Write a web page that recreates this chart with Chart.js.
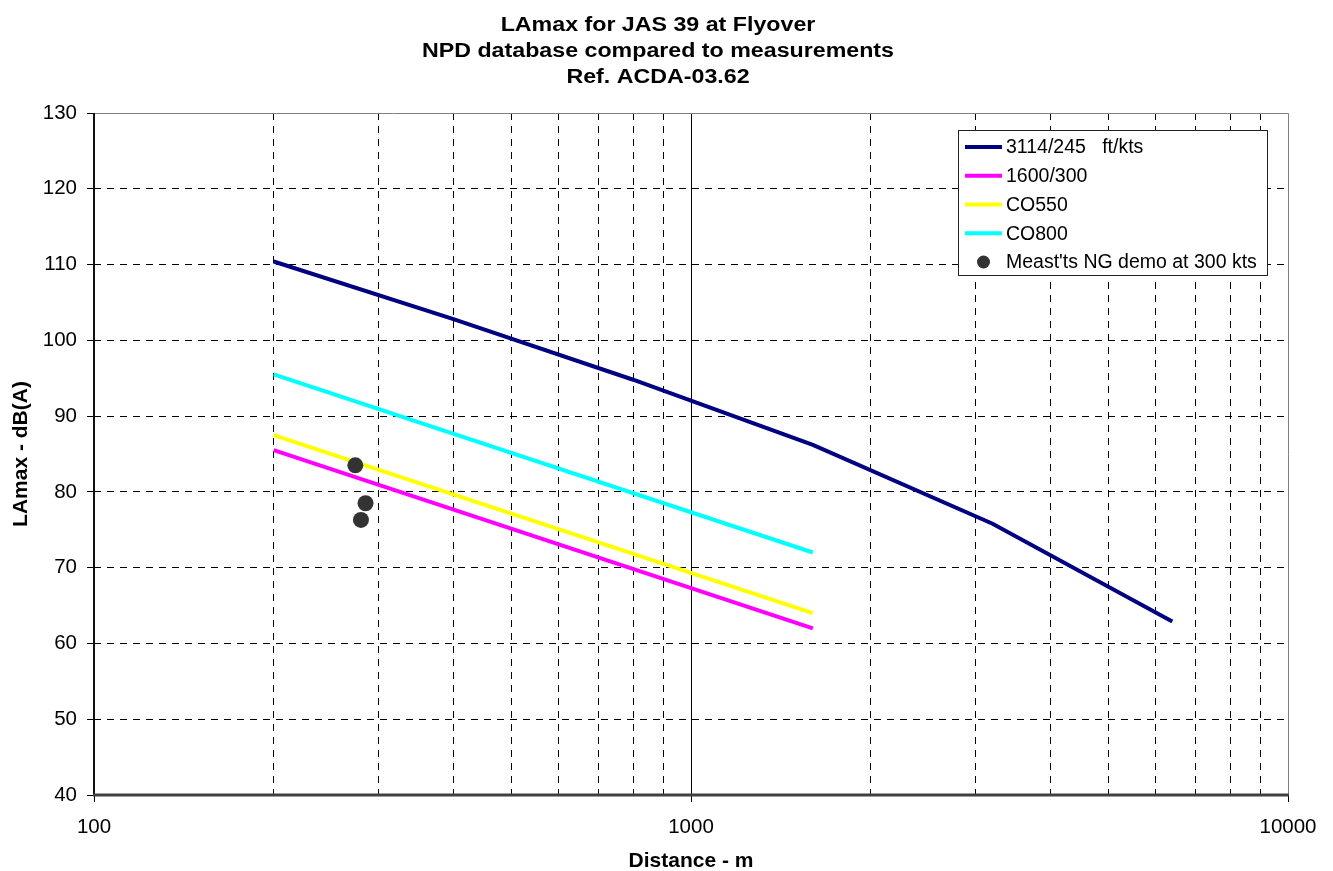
<!DOCTYPE html>
<html><head><meta charset="utf-8">
<script src="https://cdn.jsdelivr.net/npm/chart.js@4"></script>
<style>html,body{margin:0;padding:0;background:#fff}#wrap{width:1333px;height:871px}</style>
</head><body><div id="wrap"><canvas id="c" width="1333" height="871"></canvas></div>
<script>
// ---- data ----
const titleLines = ['LAmax for JAS 39 at Flyover', 'NPD database compared to measurements', 'Ref. ACDA-03.62'];
const xAxisTitle = 'Distance - m';
const yAxisTitle = 'LAmax - dB(A)';
const xTickValues = [100, 200, 300, 400, 500, 600, 700, 800, 900, 1000, 2000, 3000, 4000, 5000, 6000, 7000, 8000, 9000, 10000];
const xLabelledTicks = [100, 1000, 10000];
const seriesLabels = ['3114/245   ft/kts', '1600/300', 'CO550', 'CO800', "Meast'ts NG demo at 300 kts"];
const dist3114 = [200, 400, 800, 1600, 3200, 6400];
const lamax3114 = [110.4, 102.8, 94.8, 86.2, 75.8, 62.9];
const distShort = [200, 1600];
const lamax1600 = [85.5, 62.0];
const lamaxCO550 = [87.5, 64.0];
const lamaxCO800 = [95.5, 72.0];
const measDist = [274, 285, 280];
const measLamax = [83.5, 78.5, 76.3];

// ---- chart ----
const FONT = '"Liberation Sans", Arial, sans-serif';
const pts = (xs, ys) => xs.map((x, i) => ({x: x, y: ys[i]}));
const lineDs = (label, xs, ys, color) => ({
  label, data: pts(xs, ys), showLine: true, borderColor: color, backgroundColor: color,
  borderWidth: 4, pointRadius: 0, pointHoverRadius: 0, tension: 0, order: 1, fill: false
});

const frameAndTitles = {
  id: 'frameAndTitles',
  beforeDatasetsDraw(chart) {
    const {ctx, chartArea: a, scales} = chart;
    ctx.save();
    // solid line at 1000
    const x1000 = Math.round(scales.x.getPixelForValue(1000)) + 0.5;
    ctx.strokeStyle = '#000'; ctx.lineWidth = 1; ctx.setLineDash([]);
    ctx.beginPath(); ctx.moveTo(x1000, a.top); ctx.lineTo(x1000, a.bottom); ctx.stroke();
    // top & right border (gray)
    ctx.strokeStyle = '#808080'; ctx.lineWidth = 1;
    ctx.beginPath(); ctx.moveTo(a.left, a.top + 0.5); ctx.lineTo(a.right + 0.5, a.top + 0.5);
    ctx.lineTo(a.right + 0.5, a.bottom); ctx.stroke();
    // left axis
    ctx.strokeStyle = '#111'; ctx.lineWidth = 2;
    ctx.beginPath(); ctx.moveTo(a.left, a.top); ctx.lineTo(a.left, a.bottom); ctx.stroke();
    // bottom axis
    ctx.strokeStyle = '#404040'; ctx.lineWidth = 3;
    ctx.beginPath(); ctx.moveTo(a.left - 1, a.bottom); ctx.lineTo(a.right + 1, a.bottom); ctx.stroke();
    ctx.restore();
  },
  afterDraw(chart) {
    const {ctx, chartArea: a} = chart;
    ctx.save();
    ctx.fillStyle = '#000';
    // main title (slightly wide face)
    ctx.font = 'bold 19.5px ' + FONT;
    ctx.textAlign = 'center'; ctx.textBaseline = 'alphabetic';
    const baselines = [30.5, 56.5, 82.5];
    titleLines.forEach((t, i) => {
      ctx.save(); ctx.translate(658, baselines[i]); ctx.scale(1.19, 1);
      ctx.fillText(t, 0, 0); ctx.restore();
    });
    // axis titles
    ctx.font = 'bold 21px ' + FONT;
    ctx.fillText(xAxisTitle, (a.left + a.right) / 2, 867);
    ctx.save(); ctx.translate(21, (a.top + a.bottom) / 2); ctx.rotate(-Math.PI / 2);
    ctx.textBaseline = 'middle'; ctx.fillText(yAxisTitle, 0, 0); ctx.restore();
    // legend
    const bx = 958.5, by = 130.5, bw = 309, bh = 145;
    ctx.fillStyle = '#fff'; ctx.fillRect(bx, by, bw, bh);
    ctx.strokeStyle = '#222'; ctx.lineWidth = 1; ctx.strokeRect(bx, by, bw, bh);
    ctx.font = '19.5px ' + FONT; ctx.textAlign = 'left'; ctx.textBaseline = 'middle';
    chart.data.datasets.forEach((ds, i) => {
      const y = 147 + i * 28.75;
      if (ds.showLine) {
        ctx.strokeStyle = ds.borderColor; ctx.lineWidth = 4;
        ctx.beginPath(); ctx.moveTo(965, y); ctx.lineTo(1002, y); ctx.stroke();
      } else {
        ctx.fillStyle = ds.backgroundColor;
        ctx.beginPath(); ctx.arc(983.5, y, 6.5, 0, Math.PI * 2); ctx.fill();
      }
      ctx.fillStyle = '#000';
      ctx.fillText(ds.label, 1006, y + 1);
    });
    ctx.restore();
  }
};

new Chart(document.getElementById('c'), {
  type: 'scatter',
  data: {
    datasets: [
      lineDs(seriesLabels[0], dist3114, lamax3114, '#000080'),
      lineDs(seriesLabels[1], distShort, lamax1600, '#FF00FF'),
      lineDs(seriesLabels[2], distShort, lamaxCO550, '#FFFF00'),
      lineDs(seriesLabels[3], distShort, lamaxCO800, '#00FFFF'),
      {label: seriesLabels[4], data: pts(measDist, measLamax), showLine: false,
       pointRadius: 8, pointHoverRadius: 8, backgroundColor: '#333333', borderWidth: 0, order: 0}
    ]
  },
  options: {
    responsive: false, animation: false, devicePixelRatio: 1,
    layout: {padding: {top: 113, right: 45, left: 0, bottom: 0}},
    plugins: {legend: {display: false}, title: {display: false}, tooltip: {enabled: false}},
    scales: {
      x: {
        type: 'logarithmic', min: 100, max: 10000,
        afterBuildTicks: (s) => { s.ticks = xTickValues.map(v => ({value: v})); },
        afterFit: (s) => { s.height = 76; },
        ticks: {
          autoSkip: false, maxRotation: 0, minRotation: 0, padding: 13, color: '#000',
          font: {family: FONT, size: 20.5},
          callback: (v) => xLabelledTicks.includes(v) ? String(v) : ''
        },
        grid: {
          lineWidth: 1, tickLength: 7, tickWidth: 1,
          color: (c) => { const v = c.tick && c.tick.value; return (v === 100 || v === 10000 || v === 1000) ? 'rgba(0,0,0,0)' : '#000'; },
          tickColor: (c) => (c.tick && xLabelledTicks.includes(c.tick.value)) ? '#000' : 'rgba(0,0,0,0)'
        },
        border: {display: false, dash: [7, 6]}
      },
      y: {
        type: 'linear', min: 40, max: 130,
        afterFit: (s) => { s.width = 94; },
        ticks: {stepSize: 10, padding: 10, color: '#000', font: {family: FONT, size: 20.5}},
        grid: {
          lineWidth: 1, tickLength: 7, tickWidth: 1, tickColor: '#000',
          color: (c) => { const v = c.tick && c.tick.value; return (v === 40 || v === 130) ? 'rgba(0,0,0,0)' : '#000'; }
        },
        border: {display: false, dash: [7, 6]}
      }
    }
  },
  plugins: [frameAndTitles]
});
</script></body></html>
